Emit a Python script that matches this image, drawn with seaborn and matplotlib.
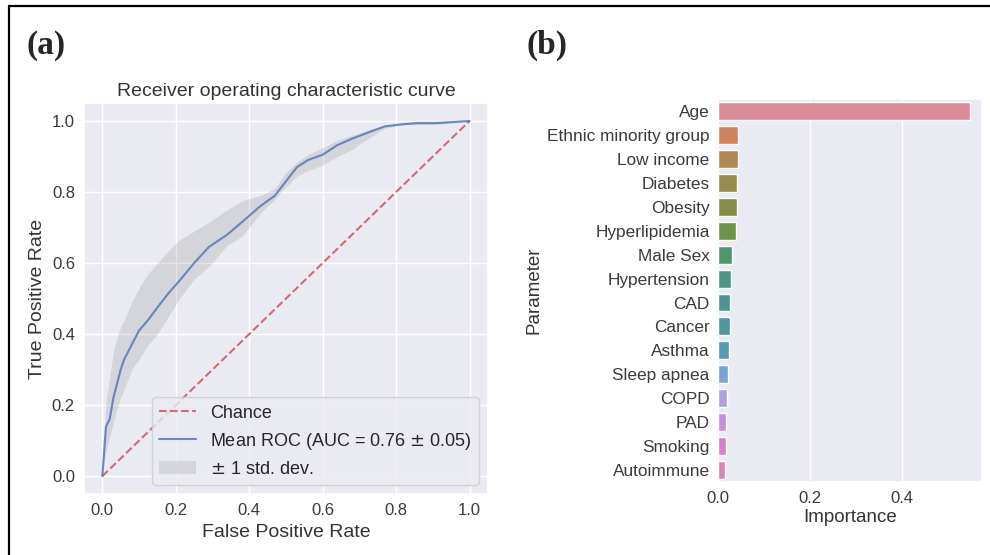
import numpy as np
import pandas as pd
import matplotlib
matplotlib.use("Agg")
import matplotlib.pyplot as plt
from matplotlib.lines import Line2D
import seaborn as sns

# ROC values
fpr = [0, 0.01, 0.02, 0.03, 0.04, 0.05, 0.06, 0.08, 0.10, 0.125, 0.15, 0.18, 0.21, 0.25,
       0.29, 0.34, 0.38, 0.43, 0.47, 0.50, 0.53, 0.56, 0.60, 0.64, 0.68, 0.73, 0.77,
       0.82, 0.86, 0.91, 1.0]
mean_tpr = [0, 0.14, 0.16, 0.22, 0.26, 0.30, 0.33, 0.37, 0.41, 0.44, 0.475, 0.515, 0.55, 0.60,
            0.645, 0.68, 0.715, 0.76, 0.79, 0.83, 0.87, 0.89, 0.905, 0.932, 0.95, 0.97, 0.985,
            0.991, 0.994, 0.994, 1.0]
tpr_upper = [0, 0.21, 0.28, 0.35, 0.39, 0.42, 0.44, 0.49, 0.53, 0.57, 0.60, 0.635, 0.665, 0.69,
             0.715, 0.75, 0.775, 0.79, 0.81, 0.855, 0.885, 0.905, 0.925, 0.945, 0.96, 0.976, 0.988,
             0.995, 1.0, 1.0, 1.0]
tpr_lower = [0, 0.07, 0.11, 0.15, 0.19, 0.22, 0.245, 0.30, 0.33, 0.37, 0.40, 0.45, 0.50, 0.555,
             0.59, 0.65, 0.675, 0.74, 0.78, 0.815, 0.845, 0.86, 0.876, 0.90, 0.92, 0.955, 0.98,
             0.99, 0.99, 0.99, 1.0]
chance = [0, 1]

# feature importances
params = ["Age", "Ethnic minority group", "Low income", "Diabetes", "Obesity", "Hyperlipidemia",
          "Male Sex", "Hypertension", "CAD", "Cancer", "Asthma", "Sleep apnea", "COPD", "PAD",
          "Smoking", "Autoimmune"]
importance = [0.546, 0.043, 0.043, 0.041, 0.041, 0.038, 0.031, 0.028, 0.025, 0.025, 0.023,
              0.021, 0.020, 0.018, 0.017, 0.015]

sns.set_theme(style="darkgrid")
plt.rcParams["font.family"] = ["Liberation Sans", "DejaVu Sans"]

fig = plt.figure(figsize=(9.9, 5.55), dpi=100)
ax1 = fig.add_axes([0.0848, 0.110, 0.408, 0.704])
ax2 = fig.add_axes([0.7253, 0.1315, 0.2667, 0.690])

# (a) ROC
sns.lineplot(x=chance, y=chance, ax=ax1, color="r", linestyle="--", lw=1.5, alpha=0.8, label="Chance")
sns.lineplot(x=fpr, y=mean_tpr, ax=ax1, color="b", lw=1.5, alpha=0.8,
             label="Mean ROC (AUC = 0.76 $\\pm$ 0.05)")
ax1.fill_between(fpr, tpr_lower, tpr_upper, color="grey", alpha=0.2, lw=0, label="$\\pm$ 1 std. dev.")
ax1.set_xlim(-0.05, 1.05)
ax1.set_ylim(-0.05, 1.05)
ax1.set_xticks(np.arange(0, 1.01, 0.2))
ax1.set_yticks(np.arange(0, 1.01, 0.2))
ax1.tick_params(labelsize=12, labelcolor="#3a3a3a", pad=0.5)
ax1.set_xlabel("False Positive Rate", fontsize=14, labelpad=4, color="#333333")
ax1.set_ylabel("True Positive Rate", fontsize=14, labelpad=4, color="#333333")
ax1.set_title("Receiver operating characteristic curve", fontsize=14, pad=5, color="#333333")
ax1.legend(loc="lower right", fontsize=13)

# (b) importance bars
pal = sns.color_palette("husl", len(params), desat=0.6)
df = pd.DataFrame({"Parameter": params, "Importance": importance})
sns.barplot(data=df, x="Importance", y="Parameter", hue="Parameter", palette=pal,
            saturation=1, width=0.75, legend=False, ax=ax2)
ax2.set_xticks([0.0, 0.2, 0.4])
ax2.tick_params(axis="x", labelsize=12, labelcolor="#3a3a3a", pad=0.5)
ax2.tick_params(axis="y", labelsize=12.4, labelcolor="#3a3a3a", pad=0)
ax2.set_xlabel("Importance", fontsize=13.5, labelpad=2, color="#333333")
ax2.set_ylabel("Parameter", fontsize=13.5, labelpad=3, color="#333333")

fig.text(0.027, 0.903, "(a)", family="Liberation Serif", weight="bold", fontsize=24)
fig.text(0.532, 0.903, "(b)", family="Liberation Serif", weight="bold", fontsize=24)

# black frame on top and left
fig.add_artist(Line2D([0.0095, 1.0], [0.9885, 0.9885], color="black", lw=1.6, transform=fig.transFigure))
fig.add_artist(Line2D([0.0095, 0.0095], [0.0, 0.9885], color="black", lw=1.6, transform=fig.transFigure))

fig.savefig("out.png", dpi=100)
